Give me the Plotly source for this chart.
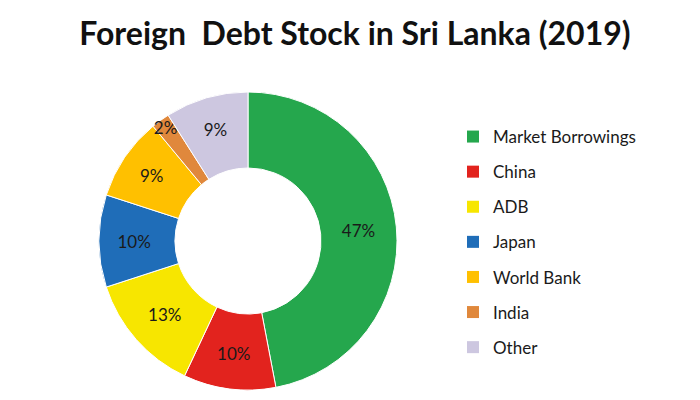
import plotly.graph_objects as go

labels = ["Market Borrowings", "China", "ADB", "Japan", "World Bank", "India", "Other"]
values = [47, 10, 13, 10, 9, 2, 9]
colors = ["#25A74D", "#E2231E", "#F7E600", "#1F6DB8", "#FFC000", "#E0883C", "#CDC7E0"]

fig = go.Figure()
fig.add_trace(go.Pie(
    labels=labels, values=values, sort=False, direction="clockwise", rotation=0,
    hole=0.49, marker=dict(colors=colors, line=dict(color="white", width=1)),
    texttemplate="%{value}%", textposition="inside", insidetextorientation="horizontal",
    textfont=dict(family="Lato", size=17, color="#1a1a1a"),
    domain=dict(x=[98/700, 398/700], y=[0.025, 0.77]),
    showlegend=False, hoverinfo="label+value",
))
for i, (lab, col) in enumerate(zip(labels, colors)):
    fig.add_trace(go.Scatter(
        x=[None], y=[None], mode="markers", name=lab, legendgroup=f"g{i}",
        marker=dict(symbol="square", size=10, color=col),
        showlegend=True,
    ))

fig.update_layout(
    width=700, height=400, autosize=False,
    margin=dict(l=0, r=0, t=0, b=0),
    paper_bgcolor="white", plot_bgcolor="white",
    uniformtext=dict(minsize=17, mode="show"),
    title=dict(text="<b>Foreign&nbsp; Debt Stock in Sri Lanka (2019)</b>",
               x=0.507, xanchor="center", y=1 - 34/400, yanchor="middle",
               font=dict(family="Lato", size=32, color="#111", weight=900)),
    xaxis=dict(visible=False), yaxis=dict(visible=False),
    legend=dict(x=453/700, xanchor="left", y=1 - 119/400, yanchor="top",
                font=dict(family="Lato", size=17, color="#1a1a1a"),
                tracegroupgap=10, itemsizing="constant", bgcolor="rgba(0,0,0,0)"),
)
fig.write_html("out.html")
